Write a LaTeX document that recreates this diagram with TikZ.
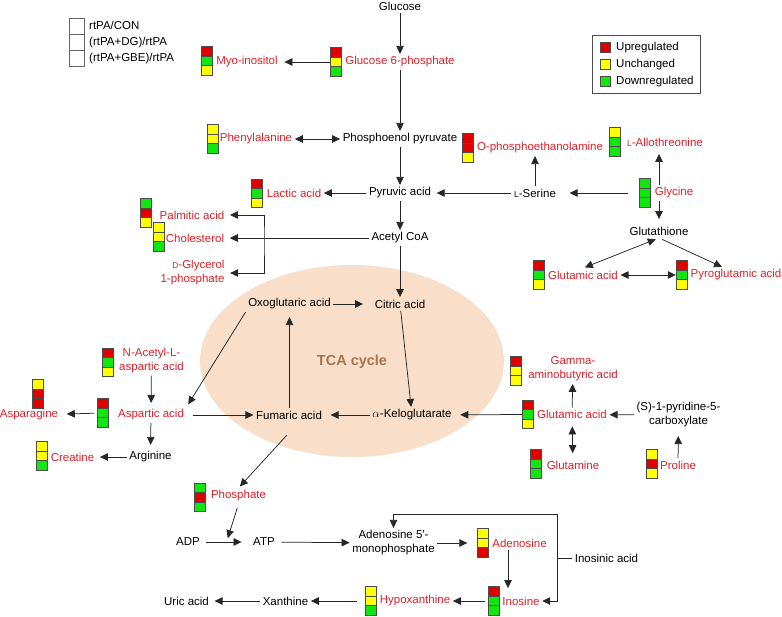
\documentclass[tikz,border=0pt]{standalone}
\usepackage{fontspec}
\setmainfont{Liberation Sans}
\usepackage{tikz}
\usetikzlibrary{arrows.meta}
\definecolor{mup}{HTML}{E00000}
\definecolor{mflat}{HTML}{FFFF00}
\definecolor{mdown}{HTML}{11E611}
\definecolor{mredtxt}{HTML}{E0202A}
\definecolor{mtca}{HTML}{F9DEC9}
\definecolor{mtcatxt}{HTML}{A8744F}
\newcommand{\smL}{{\fontsize{8.5}{10}\selectfont L}}
\newcommand{\smD}{{\fontsize{8.5}{10}\selectfont D}}
\tikzset{
  >={Triangle[length=8pt,width=7.5pt]},
  mtxt/.style={font=\fontsize{11.5}{14}\selectfont, inner sep=2.5pt, align=center},
  mhit/.style={mtxt, text=mredtxt},
  marr/.style={->, draw=black!85, line width=0.75pt},
  mdbl/.style={<->, draw=black!85, line width=0.75pt},
  mline/.style={draw=black!85, line width=0.75pt},
  mcell/.style={draw=black!70, line width=0.6pt},
  mstack/.style={minimum width=11pt, minimum height=28.5pt, inner sep=0pt},
  mkey/.style={draw=black!60, line width=0.6pt, fill=white},
}

\begin{document}
\begin{tikzpicture}[x=1pt,y=-1pt]
  \useasboundingbox (0,0) rectangle (782,616);

  % TCA background
  \fill[mtca] (352,361) ellipse [x radius=152pt, y radius=96pt];
  \node[font=\bfseries\fontsize{14.5}{16}\selectfont, text=mtcatxt] (tca) at (352,362) {TCA cycle};

  % legends
  \foreach \i in {0,1,2}
    \draw[mkey] (69,18+16*\i) rectangle ++(15,16);
  \node[mtxt, anchor=west] (key-con) at (86.5,25.7) {rtPA/CON};
  \node[mtxt, anchor=west] (key-dg)  at (86.5,42.3) {(rtPA+DG)/rtPA};
  \node[mtxt, anchor=west] (key-gbe) at (86.5,59)   {(rtPA+GBE)/rtPA};

  \draw[draw=black!70, line width=0.7pt] (592,35) rectangle (700,93);
  \foreach \i/\c/\t in {0/mup/Upregulated,1/mflat/Unchanged,2/mdown/Downregulated}{
    \filldraw[mcell, fill=\c] (600,42.5+17*\i) rectangle ++(10,10);
    \node[mtxt, anchor=west] (key-\c) at (613.5,47.5+17*\i) {\t};
  }

  % indicator stacks (top to bottom)
  \foreach \nm/\cx/\cy/\ca/\cb/\cc in {
      myo/207/61/mup/mdown/mflat, g6p/335.5/62/mup/mflat/mdown,
      phe/212.5/139/mflat/mflat/mdown, lac/257/193.5/mup/mdown/mflat,
      opea/467.5/148/mup/mup/mflat, allo/614.5/142/mflat/mdown/mdown,
      gly/644.5/193/mdown/mdown/mdown, glua/539/275/mup/mdown/mflat,
      pyro/681.5/275/mup/mdown/mflat, pal/146/213/mdown/mup/mflat,
      cho/159/237/mflat/mflat/mdown, gaba/515.5/371/mup/mflat/mflat,
      glub/528/414.5/mup/mdown/mflat, gln/535.5/464/mup/mdown/mdown,
      pro/652/464/mflat/mup/mflat, naa/108/362.5/mup/mdown/mflat,
      asp/103/413/mup/mdown/mdown, asn/37.5/394/mflat/mup/mup,
      cre/42/456/mflat/mflat/mdown, pho/200/497.5/mdown/mup/mdown,
      ado/483/543/mflat/mflat/mup, ino/494/601/mup/mdown/mdown,
      hyp/370.5/601/mflat/mflat/mdown}{
    \filldraw[mcell, fill=\ca] (\cx-5.5,\cy-14.25) rectangle ++(11,9.5);
    \filldraw[mcell, fill=\cb] (\cx-5.5,\cy-4.75) rectangle ++(11,9.5);
    \filldraw[mcell, fill=\cc] (\cx-5.5,\cy+4.75) rectangle ++(11,9.5);
    \node[mstack] (s-\nm) at (\cx,\cy) {};
  }

  % metabolites
  \node[mtxt] (glc)  at (400,6)   {Glucose};
  \node[mhit] (g6p)  at (400,62)  {Glucose 6-phosphate};
  \node[mhit] (myo)  at (247,62)  {Myo-inositol};
  \node[mtxt] (pep)  at (400,139) {Phosphoenol pyruvate};
  \node[mhit] (phe)  at (256,139) {Phenylalanine};
  \node[mtxt] (pyr)  at (400,193) {Pyruvic acid};
  \node[mhit] (lac)  at (294,193) {Lactic acid};
  \node[mtxt] (ser)  at (535,193) {\smL-Serine};
  \node[mhit] (opea) at (540,148) {O-phosphoethanolamine};
  \node[mhit] (allo) at (665,142) {\smL-Allothreonine};
  \node[mhit] (gly)  at (674,193) {Glycine};
  \node[mtxt] (gsh)  at (659,231) {Glutathione};
  \node[mhit] (glua) at (583,275) {Glutamic acid};
  \node[mhit] (pyro) at (736,275) {Pyroglutamic acid};
  \node[mtxt] (acoa) at (400,238) {Acetyl CoA};
  \node[mhit] (pal)  at (192,215) {Palmitic acid};
  \node[mhit] (cho)  at (195,238) {Cholesterol};
  \node[mhit, align=right] (gp) at (192.5,273) {\smD-Glycerol\\1-phosphate};
  \node[mtxt] (oxo)  at (289.5,304) {Oxoglutaric acid};
  \node[mtxt] (cit)  at (400,304) {Citric acid};
  \node[mtxt] (akg)  at (412,415) {$\alpha$-Keloglutarate};
  \node[mtxt] (fum)  at (289,415) {Fumaric acid};
  \node[mhit] (glub) at (572,414.5) {Glutamic acid};
  \node[mhit] (gaba) at (573,369) {Gamma-\\aminobutyric acid};
  \node[mhit] (gln)  at (573,465) {Glutamine};
  \node[mtxt] (p5c)  at (678.5,415) {(S)-1-pyridine-5-\\carboxylate};
  \node[mhit] (pro)  at (678,465) {Proline};
  \node[mhit] (naa)  at (151.5,360.5) {N-Acetyl-L-\\aspartic acid};
  \node[mhit] (asp)  at (151,415) {Aspartic acid};
  \node[mhit] (asn)  at (29,415)  {Asparagine};
  \node[mtxt] (arg)  at (150.5,457) {Arginine};
  \node[mhit] (cre)  at (72.5,457) {Creatine};
  \node[mhit] (pho)  at (238.5,496) {Phosphate};
  \node[mtxt] (adp)  at (188,542) {ADP};
  \node[mtxt] (atp)  at (264,542) {ATP};
  \node[mtxt] (amp)  at (393.5,543) {Adenosine 5′-\\monophosphate};
  \node[mhit] (ado)  at (519.5,543) {Adenosine};
  \node[mhit] (ino)  at (521,601) {Inosine};
  \node[mhit] (hyp)  at (415,601) {Hypoxanthine};
  \node[mtxt] (xan)  at (285.5,601) {Xanthine};
  \node[mtxt] (uric) at (186.5,601) {Uric acid};
  \node[mtxt] (imp)  at (606.5,558) {Inosinic acid};

  \coordinate (fatbr) at (264,238);
  \coordinate (impbr) at (557,514);

  % glycolysis and side branches
  \draw[marr] (glc) -- (g6p);
  \draw[marr, shorten >=4pt] (s-g6p) -- (myo);
  \draw[marr] (g6p) -- (pep);
  \draw[mdbl] (phe) -- (pep);
  \draw[marr] (pep) -- (pyr);
  \draw[marr] (pyr) -- (lac);
  \draw[marr, shorten >=3pt] (ser) -- (pyr);
  \draw[marr] (ser) -- (ser |- opea.south);
  \draw[marr, shorten <=11pt, shorten >=11pt] (s-gly) -- (ser);
  \draw[marr, shorten >=5pt] (gly.north -| gsh) -- (allo.south -| gsh);
  \draw[marr, shorten >=5pt] (gly.south -| gsh) -- (gsh);
  \draw[mdbl, shorten <=2pt, shorten >=3.5pt] (glua.north) -- (gsh.south);
  \draw[marr, shorten <=3.5pt] (gsh.south) -- ([xshift=-14pt]pyro.north);
  \draw[mdbl] (glua) -- (s-pyro);
  \draw[marr] (pyr) -- (acoa);
  \draw[marr] (acoa) -- (cit);
  \draw[marr, shorten >=3pt] (acoa) -- (cho);
  \draw[mdbl, shorten <=3pt, shorten >=3pt] (pal) -| (fatbr) |- (gp);

  % TCA cycle
  \draw[marr, shorten >=9pt] (oxo) -- (cit);
  \draw[marr] (cit) -- (akg);
  \draw[marr, shorten >=6pt] (akg) -- (fum);
  \draw[marr, shorten >=5pt] (fum.north -| oxo) -- (oxo);

  % amino acids
  \draw[marr, shorten >=6pt] (s-glub) -- (akg);
  \draw[marr] (glub) -- (gaba);
  \draw[mdbl, shorten <=5pt, shorten >=5pt] (glub) -- (gln);
  \draw[marr] (p5c) -- (glub);
  \draw[marr, shorten >=6pt] (pro) -- (p5c);
  \draw[marr, shorten >=3pt] (oxo.south west) -- (asp.north east);
  \draw[marr, shorten >=4pt] (naa) -- (asp);
  \draw[marr, shorten <=3pt, shorten >=6pt] (s-asp) -- (asn);
  \draw[marr, shorten <=6pt] (asp) -- (fum);
  \draw[marr, shorten >=4pt] (asp) -- (arg);
  \draw[marr, shorten >=3pt] (arg) -- (cre);

  % purines
  \draw[marr, shorten <=18pt, shorten >=2pt] ([xshift=10pt]fum.south) -- (pho.north);
  \draw[marr, shorten <=3pt, shorten >=9pt] (adp) -- coordinate (adpatp) (atp);
  \draw[marr, shorten <=4pt, shorten >=4pt] (pho.south) -- (adpatp);
  \draw[marr, shorten <=4pt] (atp) -- (amp);
  \draw[marr, shorten >=10pt] (amp) -- (s-ado);
  \draw[marr, shorten >=6pt] ([xshift=-11.5pt]ado.south) -- ([xshift=-13pt]ino.north);
  \draw[marr, shorten <=3pt] (s-ino) -- (hyp);
  \draw[marr, shorten <=8pt] (s-hyp) -- (xan);
  \draw[marr, shorten >=3pt] (xan) -- (uric);
  \draw[marr] (impbr) -| (amp);
  \draw[marr] (impbr) |- (ino);
  \draw[mline] (imp) -- (imp -| impbr);

\end{tikzpicture}
\end{document}
